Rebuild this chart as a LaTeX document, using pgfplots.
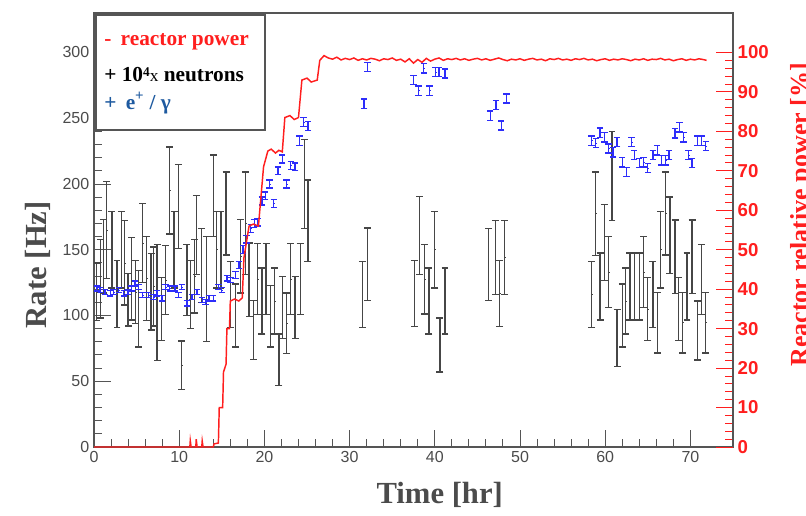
\documentclass[border=0pt]{standalone}
\usepackage{pgfplots}
\pgfplotsset{compat=1.18}
\usepackage{fontspec}
\setmainfont{Liberation Serif}
\newfontfamily\arial{Liberation Sans}
\definecolor{framegray}{RGB}{85,85,85}
\definecolor{titlegray}{RGB}{75,75,75}
\definecolor{barblack}{RGB}{70,70,70}
\definecolor{barblue}{RGB}{45,45,250}
\definecolor{pwrred}{RGB}{255,30,30}
\definecolor{legblue}{RGB}{30,90,160}

\begin{document}
\begin{tikzpicture}
% 1px = 0.75pt, picture 806x515 px
\useasboundingbox (0,0) rectangle (604.5pt,386.25pt);

\begin{axis}[
  at={(70.5pt,51pt)}, anchor=south west,
  scale only axis, width=479.25pt, height=325.5pt,
  xmin=0, xmax=75, ymin=0, ymax=330,
  xtick={0,10,...,70}, minor x tick num=4,
  ytick={0,50,...,300}, minor y tick num=4,
  xtick pos=bottom, ytick pos=left,
  tick align=inside,
  major tick length=13pt, minor tick length=6pt,
  axis line style={framegray, line width=0.9pt},
  every tick/.style={framegray, line width=0.7pt},
  /pgf/number format/assume math mode=true,
  tick label style={font=\arial\fontsize{12}{14}\selectfont, text=titlegray},
  xlabel={Time [hr]}, ylabel={Rate [Hz]},
  label style={font=\bfseries\fontsize{23}{26}\selectfont, text=titlegray},
  xlabel style={at={(axis description cs:0.541,-0.11)}, anchor=center},
  ylabel style={at={(axis description cs:-0.0876,0.42)}, anchor=center},
]
% 10^4 x neutrons
\addplot[only marks, mark=-, mark size=0.01pt, barblack,
  error bars/.cd, y dir=both, y explicit, error mark=|,
  error bar style={draw=barblack, line width=1pt},
  error mark options={draw=barblack, mark size=2.6pt, line width=1pt}]
coordinates {
(0.3,118) +- (0,22)
(0.75,128) +- (0,30)
(1.1,145) +- (0,28)
(1.5,165) +- (0,37)
(2.1,150) +- (0,29)
(2.7,116.5) +- (0,25.5)
(3.2,150) +- (0,29)
(3.6,140) +- (0,32)
(4.0,112) +- (0,20)
(4.4,128) +- (0,31.5)
(4.9,118) +- (0,24)
(5.2,105) +- (0,29)
(5.7,155) +- (0,30)
(6.2,128) +- (0,32)
(6.7,118) +- (0,29)
(7.0,122) +- (0,30)
(7.4,110) +- (0,44)
(7.9,105) +- (0,24)
(8.4,127) +- (0,26)
(8.9,195) +- (0,33)
(9.4,150) +- (0,29)
(9.9,183) +- (0,32)
(10.3,62) +- (0,18.5)
(10.9,127) +- (0,27)
(11.3,116) +- (0,26)
(11.8,130) +- (0,28)
(12.0,161) +- (0,30)
(12.6,138) +- (0,28)
(13.2,120) +- (0,40)
(14.0,191) +- (0,31)
(14.4,150) +- (0,29)
(14.9,150) +- (0,29)
(15.5,177.5) +- (0,31.5)
(16.0,116) +- (0,25)
(16.6,100) +- (0,24)
(17.2,145) +- (0,28)
(17.8,170) +- (0,39)
(18.2,127) +- (0,28)
(18.7,89) +- (0,22.5)
(19.2,127.5) +- (0,27)
(19.7,111) +- (0,25)
(20.2,127.5) +- (0,27)
(20.7,99.5) +- (0,23.5)
(21.2,111) +- (0,25)
(21.7,66.5) +- (0,19.5)
(22.1,106) +- (0,23.5)
(22.6,94) +- (0,23)
(23.1,127.5) +- (0,27)
(23.6,106) +- (0,23.5)
(24.2,127.5) +- (0,27)
(24.7,200) +- (0,34)
(25.1,172) +- (0,31)
(31.5,116) +- (0,25)
(32.1,139) +- (0,27.5)
(37.6,116.7) +- (0,25.3)
(38.2,161) +- (0,29.6)
(38.8,127.6) +- (0,26.5)
(39.3,111) +- (0,25)
(40.0,150) +- (0,29)
(40.6,77.5) +- (0,20.5)
(41.2,111) +- (0,25)
(46.3,138.7) +- (0,27.5)
(47.1,144) +- (0,28)
(47.6,116.7) +- (0,25.3)
(48.2,144) +- (0,28)
(58.4,116) +- (0,25)
(58.9,177.5) +- (0,31.7)
(59.4,122) +- (0,25.5)
(59.9,155.5) +- (0,29)
(60.4,133) +- (0,27)
(60.8,206) +- (0,34)
(61.4,83) +- (0,21.7)
(62.0,100) +- (0,24)
(62.4,111) +- (0,25)
(62.9,122) +- (0,25.5)
(63.4,122) +- (0,25.5)
(64.0,122) +- (0,25.5)
(64.5,133) +- (0,27)
(65.0,105) +- (0,24)
(65.6,116) +- (0,25)
(66.1,94.5) +- (0,23)
(66.5,150) +- (0,29)
(67.1,177.5) +- (0,31.5)
(67.6,161) +- (0,29)
(68.2,144.5) +- (0,28)
(68.6,105) +- (0,24)
(69.1,94.5) +- (0,23)
(69.6,122) +- (0,25.5)
(70.2,144.5) +- (0,28)
(70.8,88.6) +- (0,22.5)
(71.3,127.5) +- (0,26.5)
(71.8,94.5) +- (0,23)
};
% e+ / gamma
\addplot[only marks, mark=-, mark size=0.01pt, barblue,
  error bars/.cd, y dir=both, y explicit, error mark=|,
  error bar style={draw=barblue, line width=1pt},
  error mark options={draw=barblue, mark size=2.4pt, line width=1pt}]
coordinates {
(0.3,120.5) +- (0,2) (0.7,119.3) +- (0,2) (1.3,118) +- (0,2) (1.9,116.8) +- (0,2)
(2.3,118) +- (0,2) (2.9,119.3) +- (0,2) (3.5,116.8) +- (0,2) (4.0,118) +- (0,2)
(4.4,120.5) +- (0,2) (4.8,124.3) +- (0,2) (5.2,121.8) +- (0,2) (5.7,115.5) +- (0,2)
(6.4,115.5) +- (0,2) (7.0,114.2) +- (0,2) (7.4,116.8) +- (0,2) (8.0,113) +- (0,2)
(8.4,121.8) +- (0,2) (8.9,120.5) +- (0,2) (9.5,120.5) +- (0,2) (9.9,115.5) +- (0,2)
(10.3,121.8) +- (0,2) (10.9,109.2) +- (0,2) (11.5,114.2) +- (0,2) (12.1,118) +- (0,2)
(12.7,111.7) +- (0,2) (13.1,110.4) +- (0,2) (13.5,113) +- (0,2) (14.0,113) +- (0,2)
(14.6,121.8) +- (0,2) (15.0,119.3) +- (0,2) (15.6,128.2) +- (0,2) (16.0,127) +- (0,2)
(16.6,130.8) +- (0,2.5) (17.0,138.4) +- (0,2.5) (17.5,150) +- (0,3) (17.9,158) +- (0,3)
(18.4,166) +- (0,3) (18.8,170) +- (0,3) (19.2,171) +- (0,3) (19.7,187) +- (0,3)
(20.1,191) +- (0,3) (20.6,200) +- (0,3) (21.1,185) +- (0,3) (21.6,210) +- (0,3)
(22.1,219) +- (0,3) (22.6,200) +- (0,3) (23.1,214) +- (0,3) (23.6,213) +- (0,3)
(24.1,233) +- (0,3.5) (24.6,247) +- (0,3.5) (25.1,244) +- (0,3.5)
(31.7,261) +- (0,3.5) (32.1,289) +- (0,3.5)
(37.5,279) +- (0,3.5) (38.1,271) +- (0,3.5) (38.7,288) +- (0,3.5) (39.4,271) +- (0,3.5)
(40.1,285) +- (0,3.5) (40.5,285) +- (0,3.5) (41.2,284) +- (0,3.5)
(46.5,252) +- (0,3.5) (47.2,260) +- (0,3.5) (47.8,244.5) +- (0,3.5) (48.4,265) +- (0,3.5)
(58.4,233) +- (0,3.5) (58.9,231) +- (0,3.5) (59.4,239) +- (0,3.5) (59.9,235.5) +- (0,3.5)
(60.4,227) +- (0,3.5) (60.9,224) +- (0,3.5) (61.4,232) +- (0,3.5) (62.0,216.5) +- (0,3.5)
(62.5,209) +- (0,3.5) (63.1,232) +- (0,3.5) (63.4,222) +- (0,3.5) (64.0,216) +- (0,3.5)
(64.5,216.5) +- (0,3.5) (65.0,212) +- (0,3.5) (65.6,222) +- (0,3.5) (66.1,225.5) +- (0,3.5)
(66.6,218) +- (0,3.5) (67.1,218) +- (0,3.5) (67.5,222) +- (0,3.5) (68.2,238.5) +- (0,3.5)
(68.7,243) +- (0,3.5) (69.2,235.5) +- (0,3.5) (69.8,222) +- (0,3.5) (70.2,216) +- (0,3.5)
(70.8,233) +- (0,3.5) (71.3,233) +- (0,3.5) (71.8,229) +- (0,3.5)
};
\end{axis}

\begin{axis}[
  at={(70.5pt,51pt)}, anchor=south west,
  scale only axis, width=479.25pt, height=325.5pt,
  xmin=0, xmax=75, ymin=0, ymax=110,
  axis x line=none, axis y line=right,
  y axis line style={-, framegray, line width=0.9pt},
  ytick={0,10,...,100}, minor y tick num=4,
  tick align=inside,
  major tick length=13pt, minor tick length=6pt,
  every tick/.style={pwrred, line width=0.7pt},
  /pgf/number format/assume math mode=true,
  yticklabel style={font=\arial\bfseries\fontsize{14}{16}\selectfont, text=pwrred},
  ylabel={Reactor relative power [\%]},
  ylabel style={font=\bfseries\fontsize{19.5}{22}\selectfont, text=pwrred,
    at={(axis description cs:1.108,0.535)}, anchor=center},
]
\addplot[pwrred, line width=1.1pt] coordinates {
(0,0) (11.25,0) (11.3,1.6) (11.4,0) (11.95,0) (12.0,2) (12.1,0) (12.65,0) (12.7,1.5) (12.8,0)
(14.0,0) (14.1,0.8) (14.6,1) (14.7,10) (15.1,10) (15.2,19) (15.5,21) (15.6,30) (15.9,30)
(16.0,37) (16.5,37.5) (17.0,37) (17.4,37.8) (17.6,48) (17.9,52) (18.2,56) (18.7,56.5)
(19.3,56) (19.5,61) (19.9,71) (20.4,75) (20.8,75.5) (21.3,74.5) (21.7,75.2) (22.1,74.8)
(22.4,83.5) (23.0,84) (23.5,83) (24.0,83.5) (24.4,93) (25.0,93.5) (25.5,92.5) (26.2,93)
(26.5,98) (27.0,99.2) (27.5,98.6) (28.0,98.3) (28.5,98.8) (29.0,98.1) (29.5,98.5) (30.0,98.2)
(30.5,98.6) (31.0,98.0) (31.5,98.4) (32.0,98.1) (32.5,98.5) (33.0,98.3) (33.5,97.9) (34.0,98.4)
(34.5,98.2) (35.0,98.6) (35.5,98.0) (36.0,98.3) (36.5,97.6) (37.0,98.4) (37.5,97.3) (38.0,98.2)
(38.5,97.5) (39.0,98.5) (39.5,97.8) (40.0,98.3) (40.5,98.6) (41.0,98.0) (41.5,98.4) (42.0,98.2)
(42.5,98.5) (43.0,98.1) (43.5,98.4) (44.0,98.0) (44.5,98.3) (45.0,98.5) (45.5,98.1) (46.0,98.4)
(46.5,98.0) (47.0,98.3) (47.5,98.6) (48.0,98.2) (48.5,97.9) (49.0,98.3) (49.5,98.1) (50.0,98.4)
(50.5,98.0) (51.0,98.3) (51.5,98.5) (52.0,98.1) (52.5,98.3) (53.0,97.9) (53.5,98.4) (54.0,98.2)
(54.5,98.5) (55.0,98.1) (55.5,98.3) (56.0,98.0) (56.5,98.4) (57.0,98.2) (57.5,98.5) (58.0,98.1)
(58.5,98.3) (59.0,97.9) (59.5,98.2) (60.0,98.4) (60.5,98.0) (61.0,98.3) (61.5,98.1) (62.0,98.4)
(62.5,98.2) (63.0,97.9) (63.5,98.3) (64.0,98.1) (64.5,98.4) (65.0,98.0) (65.5,98.3) (66.0,98.2)
(66.5,98.5) (67.0,98.1) (67.5,98.3) (68.0,97.9) (68.5,98.2) (69.0,98.4) (69.5,98.0) (70.0,98.3)
(70.5,98.1) (71.0,98.4) (71.5,98.2) (71.9,98.0)
};
\end{axis}

% legend box (picture coordinates, 1px = 0.75pt)
\draw[framegray, line width=0.8pt, fill=white] (72pt,288.75pt) rectangle (198.75pt,375pt);
\node[anchor=west, text=pwrred, font=\bfseries\fontsize{16}{18}\selectfont, inner sep=0pt]
  at (78pt,354.75pt) {-\hspace{7pt}reactor power};
\node[anchor=west, text=black, font=\bfseries\fontsize{16}{18}\selectfont, inner sep=0pt]
  at (78pt,330pt) {+\hspace{4pt}10\raisebox{4pt}{\fontsize{10}{10}\selectfont 4}{\mdseries\fontsize{13}{14}\selectfont x} neutrons};
\node[anchor=west, text=legblue, font=\bfseries\fontsize{16}{18}\selectfont, inner sep=0pt]
  at (78pt,309pt) {+\hspace{7pt}e\textsuperscript{+} / γ};
\end{tikzpicture}
\end{document}
